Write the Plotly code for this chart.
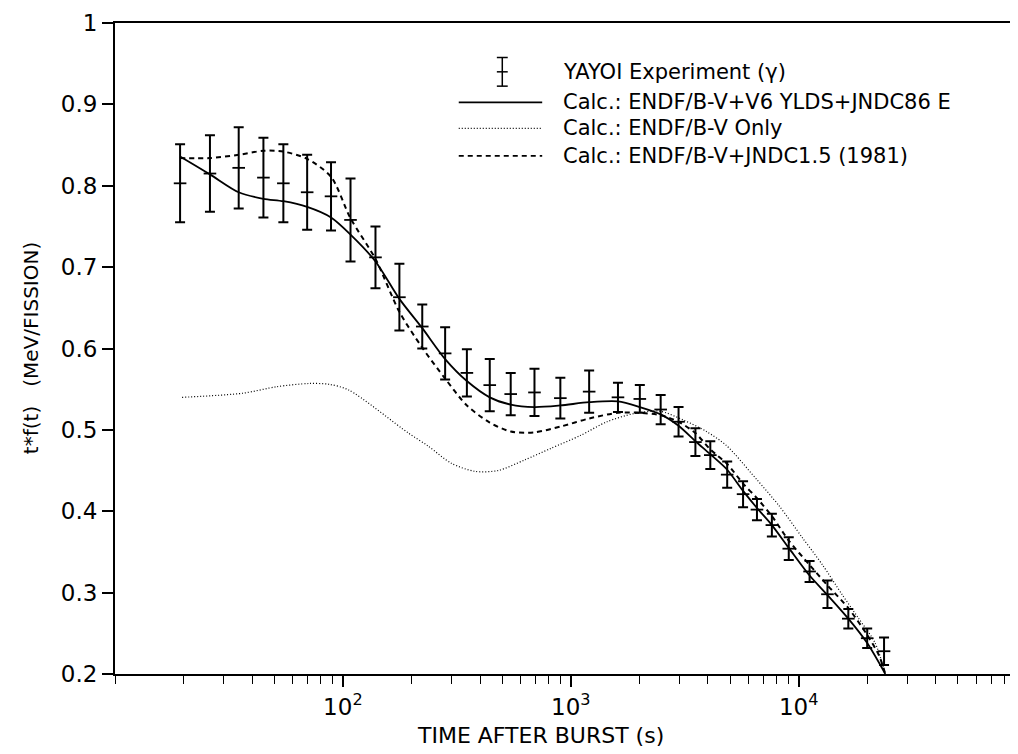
import plotly.graph_objects as go

# ---------------- data ----------------
exp_t = [19.3, 26.1, 34.9, 44.8, 54.8, 69.7, 88.7, 108, 139, 177, 223, 281, 350, 441,
         545, 693, 900, 1204, 1611, 2009, 2480, 2971, 3523, 4095, 4857, 5702, 6561,
         7628, 9047, 11166, 13376, 16515, 19983, 23695]
exp_v = [0.803, 0.815, 0.822, 0.810, 0.803, 0.792, 0.787, 0.758, 0.712, 0.663, 0.627,
         0.594, 0.570, 0.555, 0.544, 0.546, 0.539, 0.547, 0.540, 0.538, 0.525, 0.510,
         0.485, 0.469, 0.445, 0.421, 0.402, 0.383, 0.354, 0.326, 0.298, 0.268, 0.244,
         0.228]
exp_err = [0.048, 0.047, 0.050, 0.049, 0.048, 0.046, 0.042, 0.051, 0.038, 0.041, 0.027,
           0.032, 0.029, 0.032, 0.026, 0.029, 0.025, 0.026, 0.018, 0.017, 0.018, 0.018,
           0.017, 0.017, 0.016, 0.016, 0.013, 0.014, 0.014, 0.013, 0.017, 0.012, 0.012,
           0.017]

solid_t = [19.3, 26.1, 34.9, 44.8, 54.8, 69.7, 88.7, 108, 139, 177, 223, 281, 350, 441,
           545, 693, 900, 1204, 1611, 2009, 2480, 2971, 3523, 4095, 4857, 5702, 6561,
           7628, 9047, 11166, 13376, 16515, 19983, 24000]
solid_v = [0.836, 0.814, 0.792, 0.784, 0.781, 0.774, 0.761, 0.740, 0.707, 0.661, 0.625,
           0.587, 0.560, 0.540, 0.531, 0.528, 0.530, 0.534, 0.535, 0.528, 0.519, 0.505,
           0.486, 0.470, 0.451, 0.425, 0.404, 0.383, 0.355, 0.321, 0.297, 0.268, 0.238,
           0.200]

dotted_t = [19.7, 36.3, 51.1, 71.1, 86.9, 106, 194, 237, 299, 380, 479, 627, 814, 1100,
            1442, 1891, 2455, 3125, 3937, 4810, 6500, 8190, 10410, 12730, 15560, 18260,
            21660, 24000]
dotted_v = [0.540, 0.545, 0.553, 0.557, 0.556, 0.549, 0.496, 0.480, 0.459, 0.449, 0.450,
            0.463, 0.477, 0.493, 0.510, 0.520, 0.523, 0.512, 0.498, 0.481, 0.440, 0.407,
            0.367, 0.334, 0.297, 0.269, 0.238, 0.200]

dashed_t = [19.3, 26.1, 34.9, 44.8, 54.8, 69.7, 88.7, 108, 139, 177, 223, 281, 350, 441,
            545, 693, 900, 1204, 1611, 2009, 2480, 2971, 3523, 4095, 4857, 5702, 6561,
            7628, 9047, 11166, 13376, 16515, 19983, 22500, 24000]
dashed_v = [0.834, 0.834, 0.838, 0.843, 0.842, 0.833, 0.811, 0.760, 0.710, 0.645, 0.601,
            0.563, 0.530, 0.509, 0.498, 0.497, 0.504, 0.514, 0.521, 0.521, 0.518, 0.510,
            0.496, 0.476, 0.458, 0.434, 0.416, 0.394, 0.364, 0.334, 0.309, 0.281, 0.248,
            0.223, 0.200]

legend_labels = ["YAYOI Experiment (\u03b3)",
                 "Calc.: ENDF/B-V+V6 YLDS+JNDC86 E",
                 "Calc.: ENDF/B-V Only",
                 "Calc.: ENDF/B-V+JNDC1.5 (1981)"]

x_major = [100, 1000, 10000]
x_major_text = ["10<sup>2</sup>", "10<sup>3</sup>", "10<sup>4</sup>"]
x_minor = [10] + [m * 10 ** e for e in range(1, 5) for m in range(2, 10)]
y_ticks = [0.2, 0.3, 0.4, 0.5, 0.6, 0.7, 0.8, 0.9, 1.0]
y_text = ["0.2", "0.3", "0.4", "0.5", "0.6", "0.7", "0.8", "0.9", "1"]
x_title = "TIME AFTER BURST (s)"
y_title = "t*f(t)\u00a0\u00a0\u00a0(MeV/FISSION)"

FONT = "DejaVu Sans, Verdana, sans-serif"

fig = go.Figure()

fig.add_trace(go.Scatter(
    x=solid_t, y=solid_v, mode="lines", name=legend_labels[1],
    line=dict(color="black", width=1.8, shape="spline", smoothing=0.8)))
fig.add_trace(go.Scatter(
    x=dotted_t, y=dotted_v, mode="lines", name=legend_labels[2],
    line=dict(color="black", width=1.2, dash="1px,2px", shape="spline", smoothing=0.8)))
fig.add_trace(go.Scatter(
    x=dashed_t, y=dashed_v, mode="lines", name=legend_labels[3],
    line=dict(color="black", width=2, dash="5px,4px", shape="spline", smoothing=0.8)))
fig.add_trace(go.Scatter(
    x=exp_t, y=exp_v, mode="markers", name=legend_labels[0],
    marker=dict(symbol="line-ew", size=9, color="black",
                line=dict(color="black", width=1.8)),
    error_y=dict(type="data", array=exp_err, visible=True, color="black",
                 thickness=2, width=5)))

# ---------------- hand-drawn legend (paper coordinates) ----------------
row_y = [0.925, 0.878, 0.838, 0.796]
x_s0, x_s1, x_txt, x_bar = 0.379, 0.471, 0.492, 0.427
shapes = []
shapes.append(dict(type="line", xref="paper", yref="paper", x0=x_bar, x1=x_bar,
                   y0=row_y[0] - 0.022, y1=row_y[0] + 0.022,
                   line=dict(color="black", width=1.5)))
for yy in (row_y[0] - 0.022, row_y[0] + 0.022, row_y[0]):
    shapes.append(dict(type="line", xref="paper", yref="paper",
                       x0=x_bar - 0.006, x1=x_bar + 0.006, y0=yy, y1=yy,
                       line=dict(color="black", width=1.5)))
dashes = ["solid", "1px,2px", "5px,4px"]
widths = [1.8, 1.2, 1.8]
for yy, d, w in zip(row_y[1:], dashes, widths):
    shapes.append(dict(type="line", xref="paper", yref="paper", x0=x_s0, x1=x_s1,
                       y0=yy, y1=yy, line=dict(color="black", width=w, dash=d)))
annotations = []
for yy, lab in zip(row_y, legend_labels):
    annotations.append(dict(xref="paper", yref="paper", x=x_txt, y=yy, text=lab,
                            showarrow=False, xanchor="left", yanchor="middle",
                            font=dict(family=FONT, size=21, color="black")))
annotations.append(dict(xref="paper", yref="paper", x=-0.093, y=0.5,
                        text=y_title, textangle=-90,
                        showarrow=False, xanchor="center", yanchor="middle",
                        font=dict(family=FONT, size=20, color="black")))
annotations.append(dict(xref="paper", yref="paper", x=0.469, y=-0.094,
                        text=x_title, showarrow=False,
                        xanchor="center", yanchor="middle",
                        font=dict(family=FONT, size=22, color="black")))

fig.update_layout(
    width=1018, height=754,
    margin=dict(l=107, r=2, t=14, b=88),
    paper_bgcolor="white", plot_bgcolor="white",
    showlegend=False,
    shapes=shapes, annotations=annotations,
    font=dict(family=FONT, color="black"),
)
fig.update_xaxes(
    type="log", range=[1, 4.98],
    showgrid=False, zeroline=False,
    showline=True, linecolor="black", linewidth=2, mirror=True,
    ticks="outside", ticklen=11, tickwidth=1.5, tickcolor="black",
    tickvals=x_major, ticktext=x_major_text,
    tickfont=dict(family=FONT, size=23, color="black"),
    minor=dict(tickvals=x_minor, ticks="outside", ticklen=8, tickwidth=1.2,
               tickcolor="black", showgrid=False),
)
fig.update_yaxes(
    range=[0.2, 1.0],
    showgrid=False, zeroline=False,
    showline=True, linecolor="black", linewidth=2, mirror=True,
    ticks="outside", ticklen=11, tickwidth=1.5, tickcolor="black",
    tickvals=y_ticks, ticktext=y_text,
    tickfont=dict(family=FONT, size=23, color="black"),
)

fig.write_html("out.html")
